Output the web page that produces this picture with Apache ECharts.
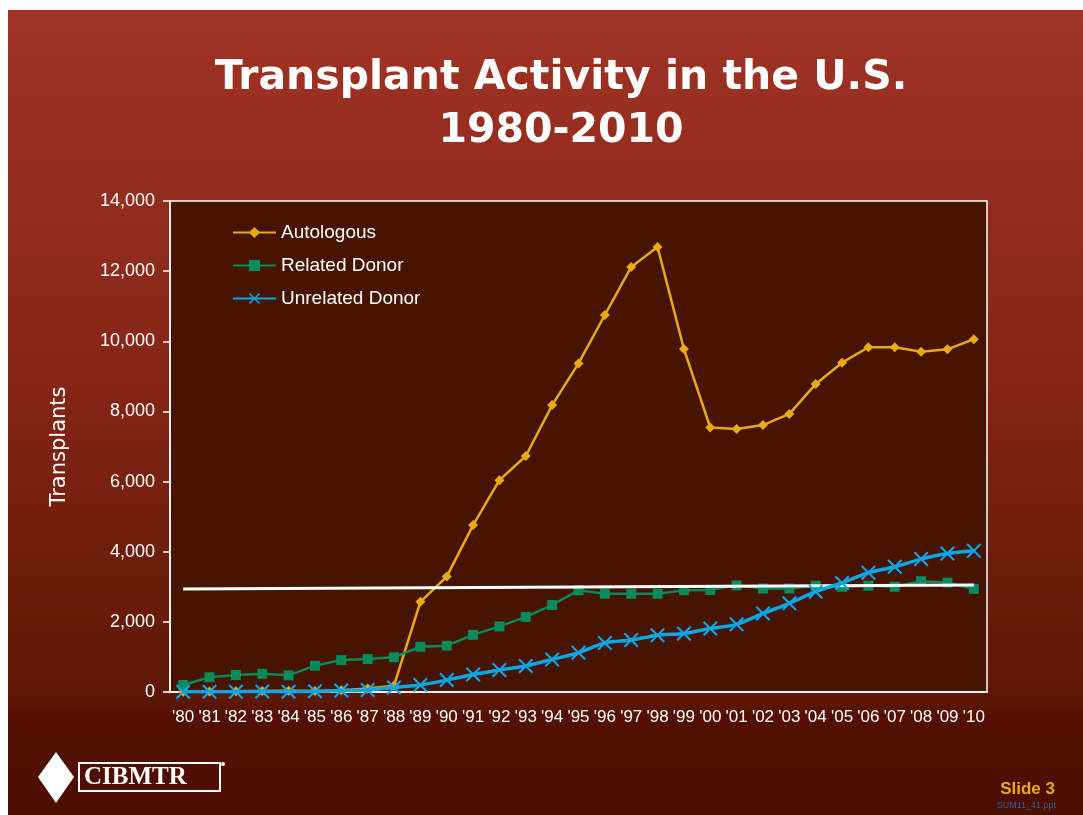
<!DOCTYPE html>
<html>
<head>
<meta charset="utf-8">
<script src="https://cdn.jsdelivr.net/npm/echarts@6/dist/echarts.min.js"></script>
<style>
    html, body { margin: 0; padding: 0; background: #fff; }
    #chart_show { width: 1083px; height: 815px; }
</style>
</head>
<body>
<div id="chart_show"></div>
<script>
// 年份
var aYears = ["'80", "'81", "'82", "'83", "'84", "'85", "'86", "'87", "'88", "'89", "'90",
    "'91", "'92", "'93", "'94", "'95", "'96", "'97", "'98", "'99", "'00",
    "'01", "'02", "'03", "'04", "'05", "'06", "'07", "'08", "'09", "'10"];
// 自体移植
var aAuto = [10, 15, 20, 30, 35, 25, 50, 100, 180, 2570, 3290,
    4760, 6040, 6730, 8180, 9370, 10750, 12120, 12690, 9780, 7540,
    7500, 7610, 7930, 8780, 9390, 9830, 9830, 9700, 9770, 10060];
// 亲属供者
var aRelated = [200, 420, 485, 520, 475, 750, 910, 940, 990, 1290, 1320,
    1630, 1870, 2140, 2480, 2900, 2800, 2800, 2800, 2900, 2910,
    3040, 2950, 2950, 3030, 3000, 3030, 3000, 3160, 3120, 2940];
// 非亲属供者
var aUnrelated = [5, 5, 10, 15, 10, 20, 40, 60, 130, 200, 340,
    500, 630, 740, 930, 1120, 1400, 1480, 1620, 1670, 1810,
    1930, 2240, 2530, 2860, 3110, 3400, 3570, 3790, 3950, 4030];
// 白色横线两端数值
var aWhiteLine = [2940, 3050];
var aLegend = ['Autologous', 'Related Donor', 'Unrelated Donor'];
var aYTicks = [0, 2000, 4000, 6000, 8000, 10000, 12000, 14000];

var crossPath = 'path://M0,1 L1,0 L5,4 L9,0 L10,1 L6,5 L10,9 L9,10 L5,6 L1,10 L0,9 L4,5 Z';

var oChart = echarts.init(document.getElementById('chart_show'));
var chartopt = {
    backgroundColor: '#ffffff',
    animation: false,
    title: {
        text: 'Transplant Activity in the U.S.\n1980-2010',
        left: 556,
        top: 47,
        textAlign: 'center',
        textStyle: {
            fontFamily: 'DejaVu Sans',
            fontWeight: 'bold',
            fontSize: 41,
            lineHeight: 53,
            color: '#ffffff',
            textShadowColor: '#000000',
            textShadowOffsetX: 3,
            textShadowOffsetY: 3,
            textShadowBlur: 0
        }
    },
    legend: {
        data: aLegend,
        orient: 'vertical',
        left: 227,
        top: 218,
        itemWidth: 43,
        itemHeight: 14,
        itemGap: 14,
        textStyle: { color: '#ffffff', fontSize: 19, fontFamily: 'Liberation Sans' }
    },
    grid: {
        show: true,
        left: 170,
        right: 96,
        top: 201,
        bottom: 123,
        backgroundColor: '#461400',
        borderColor: '#ffffff',
        borderWidth: 1.5
    },
    xAxis: {
        type: 'category',
        data: aYears,
        boundaryGap: true,
        axisLine: { lineStyle: { color: '#ffffff', width: 1.5 } },
        axisTick: { length: 7, interval: 0, lineStyle: { color: '#ffffff', width: 1.5 } },
        axisLabel: { interval: 0, margin: 17, color: '#ffffff', fontSize: 17, fontFamily: 'Liberation Sans' }
    },
    yAxis: {
        type: 'value',
        min: aYTicks[0],
        max: aYTicks[aYTicks.length - 1],
        interval: 2000,
        name: 'Transplants',
        nameLocation: 'middle',
        nameRotate: 90,
        nameGap: 100,
        nameTextStyle: { color: '#ffffff', fontSize: 21, fontFamily: 'DejaVu Sans' },
        axisLine: { show: true, lineStyle: { color: '#ffffff', width: 1.5 } },
        axisTick: { show: true, length: 7, lineStyle: { color: '#ffffff', width: 1.5 } },
        splitLine: { show: false },
        axisLabel: {
            margin: 15,
            color: '#ffffff',
            fontSize: 18,
            fontFamily: 'Liberation Sans',
            formatter: function (v) { return v.toLocaleString('en-US'); }
        }
    },
    series: [
        {
            name: 'Autologous',
            type: 'line',
            z: 3,
            symbol: 'diamond',
            symbolSize: 10,
            itemStyle: { color: '#E8AA0E' },
            lineStyle: { color: '#E8AA0E', width: 2.5 },
            data: aAuto
        },
        {
            name: 'Related Donor',
            type: 'line',
            z: 4,
            symbol: 'rect',
            symbolSize: 10,
            itemStyle: { color: '#078A5C' },
            lineStyle: { color: '#078A5C', width: 2.5 },
            data: aRelated
        },
        {
            name: 'Unrelated Donor',
            type: 'line',
            z: 5,
            smooth: 0.3,
            symbol: crossPath,
            symbolSize: 15,
            itemStyle: { color: '#0AA6E6' },
            lineStyle: { color: '#0AA6E6', width: 3.5 },
            data: aUnrelated
        },
        {
            // 白色横线
            type: 'line',
            z: 6,
            data: [],
            markLine: {
                silent: true,
                symbol: ['none', 'none'],
                label: { show: false },
                lineStyle: { color: '#ffffff', width: 3, type: 'solid' },
                data: [[{ coord: [0, aWhiteLine[0]] }, { coord: [aYears.length - 1, aWhiteLine[1]] }]]
            }
        }
    ],
    graphic: [
        {
            type: 'rect',
            z: -10,
            shape: { x: 8, y: 10, width: 1075, height: 805 },
            style: {
                fill: new echarts.graphic.LinearGradient(0, 0, 0, 1, [
                    { offset: 0, color: '#9F3325' },
                    { offset: 0.45, color: '#862617' },
                    { offset: 0.86, color: '#5C1704' },
                    { offset: 0.875, color: '#541002' },
                    { offset: 1, color: '#4A0E00' }
                ])
            }
        },
        // CIBMTR 标志
        {
            type: 'polygon',
            shape: { points: [[56, 752], [74, 777], [56, 803], [38, 777]] },
            style: { fill: '#ffffff' }
        },
        {
            type: 'rect',
            shape: { x: 79, y: 763, width: 141, height: 28 },
            style: { fill: 'none', stroke: '#ffffff', lineWidth: 2 }
        },
        {
            type: 'text',
            left: 84,
            top: 765,
            style: { text: 'CIBMTR', fill: '#ffffff', font: 'bold 25px "Liberation Serif"' }
        },
        {
            type: 'circle',
            shape: { cx: 223, cy: 764, r: 2 },
            style: { fill: '#ffffff' }
        },
        {
            type: 'text',
            right: 28,
            top: 781,
            style: { text: 'Slide 3', fill: '#E8AA0E', font: 'bold 17px "Liberation Sans"' }
        },
        {
            type: 'text',
            right: 27,
            top: 801,
            style: { text: 'SUM11_41.ppt', fill: '#3C5A9A', font: '9px "Liberation Sans"' }
        }
    ]
};
oChart.setOption(chartopt);
</script>
</body>
</html>
